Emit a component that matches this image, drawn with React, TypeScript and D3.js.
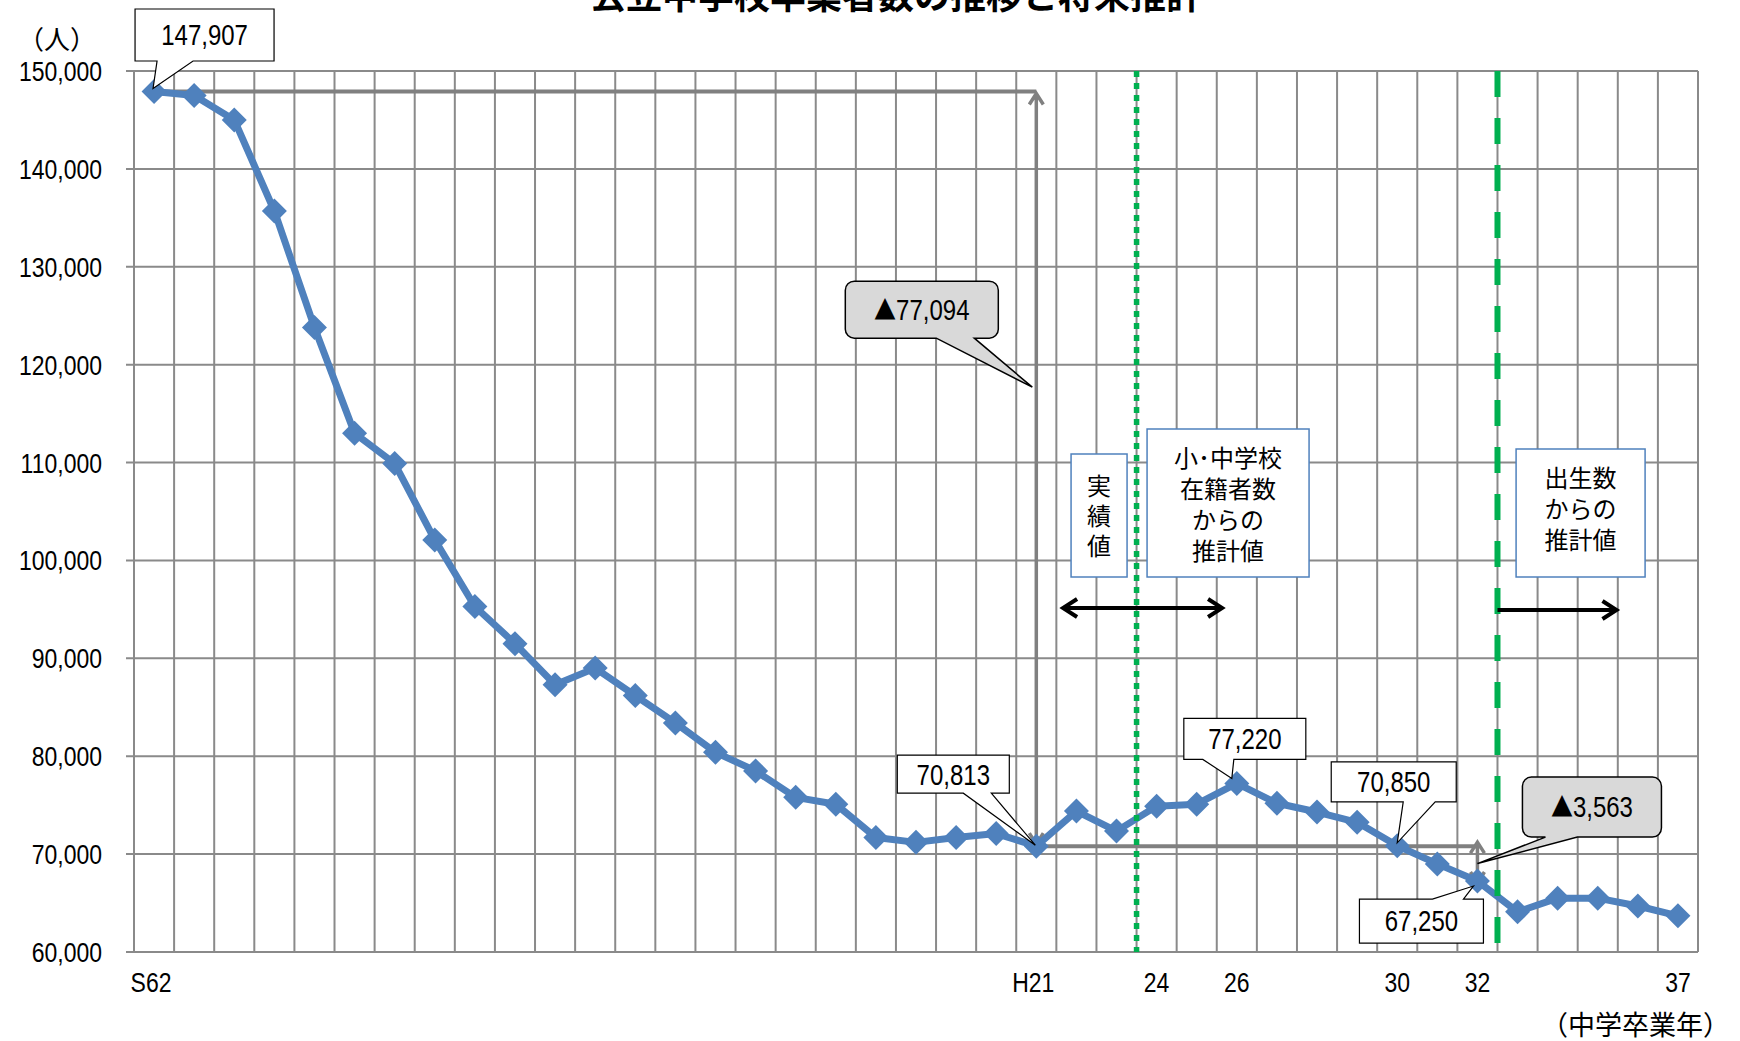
import React from 'react';
import * as d3 from 'd3';

const categories = [
  'S62', 'S63', 'H1', 'H2', 'H3', 'H4', 'H5', 'H6', 'H7', 'H8', 'H9', 'H10',
  'H11', 'H12', 'H13', 'H14', 'H15', 'H16', 'H17', 'H18', 'H19', 'H20', 'H21',
  'H22', 'H23', 'H24', 'H25', 'H26', 'H27', 'H28', 'H29', 'H30', 'H31', 'H32',
  'H33', 'H34', 'H35', 'H36', 'H37',
];

const graduates = [
  147907, 147500, 145000, 135700, 123800, 113000, 109900, 102100, 95300, 91500,
  87300, 89000, 86200, 83400, 80400, 78500, 75800, 75100, 71700, 71200, 71700,
  72100, 70813, 74400, 72350, 74900, 75100, 77220, 75200, 74300, 73250, 70850,
  69000, 67250, 64100, 65500, 65500, 64700, 63700,
];

const yTicks = [60000, 70000, 80000, 90000, 100000, 110000, 120000, 130000, 140000, 150000];
const xLabelCats = ['S62', 'H21', 'H24', 'H26', 'H30', 'H32', 'H37'];
const xLabelTexts = ['S62', 'H21', '24', '26', '30', '32', '37'];

const title = '公立中学校卒業者数の推移と将来推計';
const yUnit = '（人）';
const xUnit = '（中学卒業年）';

const calloutCats = ['S62', 'H21', 'H26', 'H30', 'H32'];
const calloutVals = [147907, 70813, 77220, 70850, 67250];
const calloutTexts = ['147,907', '70,813', '77,220', '70,850', '67,250'];

const NUM_FONT = "'Liberation Sans', Arial, sans-serif";
const JP_FONT = "'Noto Sans CJK JP', 'Noto Sans CJK SC', sans-serif";
const STRETCH = 1.2;

const X0 = 134, X1 = 1698, Y0 = 71, Y1 = 952;

function calloutPath(
  x0: number, y0: number, x1: number, y1: number, r: number,
  edge: 'top' | 'bottom', b1: number, b2: number, tx: number, ty: number,
) {
  const p: string[] = [];
  const arc = (ex: number, ey: number) => (r > 0 ? `A${r},${r} 0 0 1 ${ex},${ey}` : `L${ex},${ey}`);
  p.push(`M${x0 + r},${y0}`);
  if (edge === 'top') p.push(`L${b1},${y0} L${tx},${ty} L${b2},${y0}`);
  p.push(`L${x1 - r},${y0}`);
  p.push(arc(x1, y0 + r));
  p.push(`L${x1},${y1 - r}`);
  p.push(arc(x1 - r, y1));
  if (edge === 'bottom') p.push(`L${b2},${y1} L${tx},${ty} L${b1},${y1}`);
  p.push(`L${x0 + r},${y1}`);
  p.push(arc(x0, y1 - r));
  p.push(`L${x0},${y0 + r}`);
  p.push(arc(x0 + r, y0));
  p.push('Z');
  return p.join(' ');
}

function NumText(props: { x: number; y: number; anchor?: string; size?: number; children: React.ReactNode }) {
  const { x, y, anchor = 'middle', size = 23, children } = props;
  return (
    <text
      transform={`translate(${x},${y}) scale(1,${STRETCH})`}
      x={0}
      y={0}
      dy="0.36em"
      textAnchor={anchor}
      fontFamily={NUM_FONT}
      fontSize={size}
      fill="#000"
    >
      {children}
    </text>
  );
}

export default function App() {
  const x = d3.scaleBand<string>().domain(categories).range([X0, X1]).paddingInner(0).paddingOuter(0);
  const bw = x.bandwidth();
  const xc = (c: string) => (x(c) as number) + bw / 2;
  const y = d3.scaleLinear().domain([60000, 150000]).range([Y1, Y0]);

  const line = d3.line<number>()
    .x((_, i) => xc(categories[i]))
    .y((d) => y(d));

  const gridX = [...categories.map((c) => x(c) as number), X1];

  const gray = '#808080';
  const blue = '#4f81bd';
  const green = '#00b050';

  const vTop = graduates[0];
  const vMin = 70813;
  const vEnd = 67250;
  const xStart = xc('S62');
  const xMin = xc('H21');
  const xEnd = xc('H32');

  const dotX = x('H24') as number;
  const dashX = x('H33') as number;

  const boxOffsets = [
    { dx0: -19, dy0: -82.5, dx1: 120, dy1: -30.5, edge: 'bottom', b1: 3, b2: 39, tdx: -1, tdy: -3 },
    { dx0: -139, dy0: -91, dx1: -27, dy1: -53, edge: 'bottom', b1: -73, b2: -45, tdx: -1, tdy: -1 },
    { dx0: -53, dy0: -65, dx1: 69, dy1: -24, edge: 'bottom', b1: -34, b2: -3, tdx: -5, tdy: -5 },
    { dx0: -66, dy0: -84, dx1: 59, dy1: -44, edge: 'bottom', b1: 6, b2: 38, tdx: 0, tdy: -3 },
    { dx0: -118, dy0: 18, dx1: 6, dy1: 62, edge: 'top', b1: -45, b2: -14, tdx: -4, tdy: 5 },
  ];

  const vArrow = (xx: number, ya: number, yb: number) => {
    const hw = 7, hl = 11;
    return `M${xx},${ya} L${xx},${yb} M${xx - hw},${ya + hl} L${xx},${ya} L${xx + hw},${ya + hl} M${xx - hw},${yb - hl} L${xx},${yb} L${xx + hw},${yb - hl}`;
  };

  const diffCallouts = [
    { cx: xMin, v: 117700, text: '77,094', dx0: -191, dy0: -106, dx1: -38, dy1: -49, b1: -100, b2: -62, tdx: -4 },
    { cx: xEnd, v: (vMin + vEnd) / 2, text: '3,563', dx0: 45, dy0: -86.5, dx1: 184, dy1: -26.5, b1: 68, b2: 100, tdx: 0 },
  ];

  const jpBoxes = [
    { x0: dotX - 65.5, x1: dotX - 9.5, y0: 454, y1: 577, lines: ['実', '績', '値'], cy: 514, lh: 30 },
    { x0: dotX + 10.5, x1: dotX + 172.5, y0: 429, y1: 577, lines: ['小･中学校', '在籍者数', 'からの', '推計値'], cy: 503, lh: 31.3 },
    { x0: dashX + 18.6, x1: dashX + 147.6, y0: 449, y1: 577, lines: ['出生数', 'からの', '推計値'], cy: 507.5, lh: 31.3 },
  ];

  const hArrowHead = (tx: number, ty: number, dir: number) =>
    `M${tx - dir * 14},${ty - 9} L${tx},${ty} L${tx - dir * 14},${ty + 9}`;

  const dbl = { xa: dotX - 73.5, xb: dotX + 85.5, yy: 608 };
  const sgl = { xa: dashX, xb: dashX + 119, yy: 610 };

  const xLabelShift = (c: string) => (c.startsWith('S') || c === 'H21' ? -3 : 0);

  return (
    <svg
      width={1740}
      height={1041}
      style={{ position: 'absolute', left: 0, top: 0, background: '#ffffff' }}
    >
      <rect x={0} y={0} width={1740} height={1041} fill="#ffffff" />
      <text x={896} y={9} textAnchor="middle" fontFamily={JP_FONT} fontWeight="bold" fontSize={36} fill="#000">
        {title}
      </text>

      {/* grid */}
      <g stroke="#8a8a8a" strokeWidth={2}>
        {gridX.map((gx, i) => (
          <line key={`vx${i}`} x1={gx} x2={gx} y1={Y0} y2={Y1} />
        ))}
        {yTicks.map((t) => (
          <line key={`hy${t}`} x1={X0 - 8} x2={X1} y1={y(t)} y2={y(t)} />
        ))}
      </g>

      {/* y axis labels */}
      {yTicks.map((t) => (
        <NumText key={`yl${t}`} x={102} y={y(t)} anchor="end">
          {d3.format(',')(t)}
        </NumText>
      ))}
      <text x={57} y={37} textAnchor="middle" dominantBaseline="central" fontFamily={JP_FONT} fontSize={26} fill="#000">
        {yUnit}
      </text>

      {/* x labels */}
      {xLabelCats.map((c, i) => (
        <NumText key={`xl${c}`} x={xc(c) + xLabelShift(c)} y={982}>
          {xLabelTexts[i]}
        </NumText>
      ))}
      <text x={1730} y={1023} textAnchor="end" dominantBaseline="central" fontFamily={JP_FONT} fontSize={27} fill="#000">
        {xUnit}
      </text>

      {/* gray difference lines */}
      <g stroke={gray} strokeWidth={4} fill="none">
        <line x1={xStart} x2={xMin} y1={y(vTop)} y2={y(vTop)} />
        <line x1={xMin} x2={xEnd} y1={y(vMin)} y2={y(vMin)} />
      </g>
      <g stroke={gray} strokeWidth={3.5} fill="none" strokeLinejoin="miter">
        <path d={vArrow(xMin, y(vTop) + 2, y(vMin) - 2)} />
        <path d={vArrow(xEnd, y(vMin) - 4, y(vEnd) + 2)} />
      </g>

      {/* series */}
      <path d={line(graduates) ?? ''} fill="none" stroke={blue} strokeWidth={7} strokeLinejoin="round" />
      <g fill={blue}>
        {graduates.map((v, i) => (
          <path key={`m${i}`} transform={`translate(${xc(categories[i])},${y(v)})`} d="M0,-12.5L12.5,0L0,12.5L-12.5,0Z" />
        ))}
      </g>

      {/* green separators */}
      <line x1={dotX} x2={dotX} y1={Y0} y2={Y1} stroke={green} strokeWidth={5.5} strokeDasharray="6,6" />
      <line x1={dashX} x2={dashX} y1={Y0} y2={Y1} stroke={green} strokeWidth={6} strokeDasharray="26,21" />

      {/* value callouts */}
      {calloutCats.map((c, i) => {
        const px = xc(c);
        const py = y(calloutVals[i]);
        const o = boxOffsets[i];
        const x0 = px + o.dx0, x1 = px + o.dx1, y0 = py + o.dy0, y1 = py + o.dy1;
        return (
          <g key={`co${i}`}>
            <path
              d={calloutPath(x0, y0, x1, y1, 0, o.edge as 'top' | 'bottom', px + o.b1, px + o.b2, px + o.tdx, py + o.tdy)}
              fill="#ffffff"
              stroke="#000"
              strokeWidth={1.2}
            />
            <NumText x={(x0 + x1) / 2} y={(y0 + y1) / 2} size={24}>
              {calloutTexts[i]}
            </NumText>
          </g>
        );
      })}

      {/* difference callouts */}
      {diffCallouts.map((d, i) => {
        const px = d.cx + d.tdx;
        const py = y(d.v);
        const x0 = d.cx + d.dx0, x1 = d.cx + d.dx1, y0 = py + d.dy0, y1 = py + d.dy1;
        return (
          <g key={`dc${i}`}>
            <path
              d={calloutPath(x0, y0, x1, y1, 9, 'bottom', d.cx + d.b1, d.cx + d.b2, px, py)}
              fill="#d9d9d9"
              stroke="#000"
              strokeWidth={1.5}
            />
            <text
              transform={`translate(${(x0 + x1) / 2},${(y0 + y1) / 2}) scale(1,${STRETCH})`}
              dy="0.36em"
              textAnchor="middle"
              fontFamily={NUM_FONT}
              fontSize={24}
              fill="#000"
            >
              <tspan fontFamily={JP_FONT} fontSize={22}>▲</tspan>
              {d.text}
            </text>
          </g>
        );
      })}

      {/* Japanese explanation boxes */}
      {jpBoxes.map((b, i) => (
        <g key={`jb${i}`}>
          <rect x={b.x0} y={b.y0} width={b.x1 - b.x0} height={b.y1 - b.y0} fill="#ffffff" stroke={blue} strokeWidth={1.5} />
          {b.lines.map((ln, j) => (
            <text
              key={`jl${j}`}
              x={(b.x0 + b.x1) / 2}
              y={b.cy + (j - (b.lines.length - 1) / 2) * b.lh}
              textAnchor="middle"
              dominantBaseline="central"
              fontFamily={JP_FONT}
              fontSize={24}
              fill="#000"
            >
              {ln}
            </text>
          ))}
        </g>
      ))}

      {/* black range arrows */}
      <g stroke="#000" strokeWidth={4} fill="none" strokeLinecap="butt" strokeLinejoin="miter">
        <line x1={dbl.xa} x2={dbl.xb} y1={dbl.yy} y2={dbl.yy} />
        <path d={hArrowHead(dbl.xa, dbl.yy, -1)} />
        <path d={hArrowHead(dbl.xb, dbl.yy, 1)} />
        <line x1={sgl.xa} x2={sgl.xb} y1={sgl.yy} y2={sgl.yy} />
        <path d={hArrowHead(sgl.xb, sgl.yy, 1)} />
      </g>
    </svg>
  );
}
